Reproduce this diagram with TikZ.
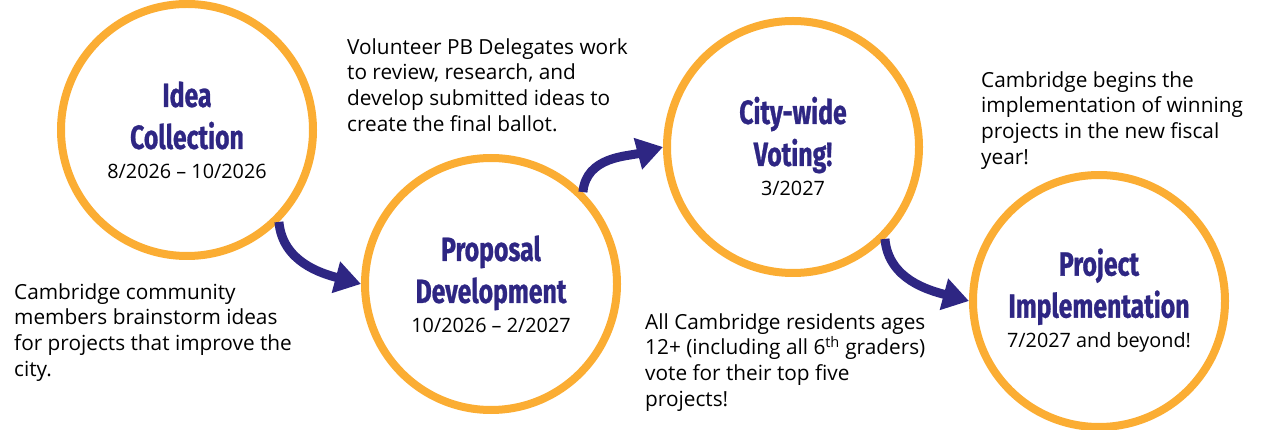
\documentclass[tikz,border=0pt]{standalone}
\usepackage{fontspec}
\setmainfont{Open Sans}
\newfontfamily\headfont[FakeStretch=0.74, FakeBold=0.8]{Fira Sans}
\usetikzlibrary{arrows.meta}
\definecolor{ring}{HTML}{FBAD33}
\definecolor{indigo}{HTML}{2E2683}
\newcommand\phasetitle[1]{\raisebox{0pt}[26pt][8pt]{\headfont\bfseries\color{indigo}\fontsize{33.5}{40}\selectfont #1}}
\begin{document}
\begin{tikzpicture}[
        x=1pt, y=-1pt,
        phase/.style={draw=ring, circle, line width=8pt, minimum size=252pt, inner sep=0pt, align=center,
            font=\fontsize{19.8}{26}\selectfont},
        note/.style={anchor=north west, inner sep=0pt, align=left, font=\fontsize{20.8}{25.8}\selectfont},
        flow/.style={draw=indigo, line width=9pt, -{Triangle[length=26pt,width=31pt]}},
    ]
    \useasboundingbox (0,0) rectangle (1280,430);

    \node[phase](idea) at (187,130){\phasetitle{Idea}\\[7pt]\phasetitle{Collection}\\[4pt]8/2026 -- 10/2026};
    \node[phase](prop) at (491,284){\phasetitle{Proposal}\\[7pt]\phasetitle{Development}\\[4pt]10/2026 -- 2/2027};
    \node[phase](vote) at (793,147){\phasetitle{City-wide}\\[7pt]\phasetitle{Voting!}\\[4pt]3/2027};
    \node[phase](impl) at (1099,301){\phasetitle{Project}\\[7pt]\phasetitle{Implementation}\\[4pt]7/2027 and beyond!};

    \node[note](ideatxt) at (14,283){Cambridge community\\members brainstorm ideas\\for projects that improve the\\city.};
    \node[note](proptxt) at (347,38){Volunteer PB Delegates work\\to review, research, and\\develop submitted ideas to\\create the final ballot.};
    \node[note](votetxt) at (645,313){All Cambridge residents ages\\12+ (including all 6\textsuperscript{th} graders)\\vote for their top five\\projects!};
    \node[note](impltxt) at (981,71){Cambridge begins the\\implementation of winning\\projects in the new fiscal\\year!};

    \draw[flow] (idea.-45) to[out=-85, in=165] (prop.west);
    \draw[flow] (prop.45) to[out=85, in=195] (vote.west);
    \draw[flow] (vote.-45) to[out=-85, in=165] (impl.west);

    \end{tikzpicture}
\end{document}
